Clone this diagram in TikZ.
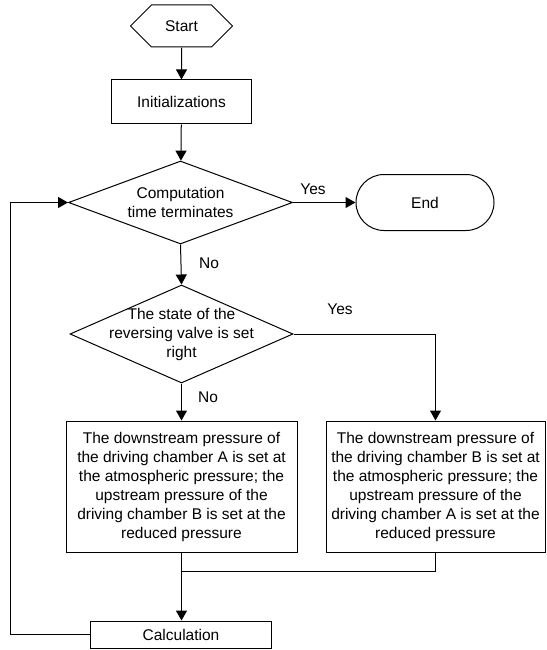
\documentclass[tikz,border=0pt]{standalone}
\usepackage{fontspec}
\setmainfont{Liberation Sans}
\usetikzlibrary{shapes.geometric,shapes.symbols,arrows.meta}
\begin{document}
\begin{tikzpicture}[x=1pt,y=-1pt,
  every node/.style={font=\fontsize{15.5}{19}\selectfont},
  box/.style={draw, line width=1pt, inner sep=0pt, align=center},
  dec/.style={draw, diamond, line width=1pt, inner sep=0pt},
  conn/.style={line width=1pt},
  arr/.style={conn, -{Triangle[length=10pt,width=11pt]}},
  lbl/.style={inner sep=0pt}]
\useasboundingbox (0,0) rectangle (546,650);
\node[draw, signal, signal to=west and east, signal pointer angle=90, minimum width=102pt, minimum height=42pt, inner sep=0pt, line width=1pt] (start) at (181.5,26) {Start};
\node[box, minimum width=140, minimum height=44] (init) at (181.5,102) {Initializations};
\node[dec, minimum width=224, minimum height=83] (d1) at (180.5,202.5) {};
\node[align=center] (d1t) at (d1) {Computation\\time terminates};
\node[draw, line width=1pt, rounded corners=28pt, minimum width=138, minimum height=56] (end) at (425,202.5) {End};
\node[dec, minimum width=223, minimum height=98] (d2) at (181.5,334) {};
\node[align=center] (d2t) at (d2) {The state of the\\reversing valve is set\\right};
\node[box, minimum width=231, minimum height=131] (lbox) at (181.5,486.5) {The downstream pressure of\\the driving chamber A is set at\\the atmospheric pressure; the\\upstream pressure of the\\driving chamber B is set at the\\reduced pressure};
\node[box, minimum width=219, minimum height=131] (rbox) at (435.5,486.5) {The downstream pressure of\\the driving chamber B is set at\\the atmospheric pressure; the\\upstream pressure of the\\driving chamber A is set at the\\reduced pressure};
\node[box, minimum width=181, minimum height=27] (calc) at (181,634.5) {Calculation};
\coordinate (m) at (181.5,571);
\coordinate (lp) at (10,634.5);
\node[lbl] (yes1) at (313,189) {Yes};
\node[lbl] (no1) at (209,263) {No};
\node[lbl] (yes2) at (340,309) {Yes};
\node[lbl] (no2) at (208,397) {No};
\draw[arr] (start) -- (init);
\draw[arr] (init) -- (d1);
\draw[arr] (d1.east) -- (end.west);
\draw[arr] (d1.south) -- (d2.north);
\draw[arr] (d2.east) -| (rbox.north);
\draw[arr] (d2.south) -- (d2.south |- lbox.north);
\draw[conn] (lbox.south) -- (m);
\draw[conn] (rbox.south) |- (m);
\draw[arr, line width=1.5pt] (m) -- (m |- calc.north);
\draw[arr] (calc.west) -- (lp) |- (d1.west);
\end{tikzpicture}
\end{document}
